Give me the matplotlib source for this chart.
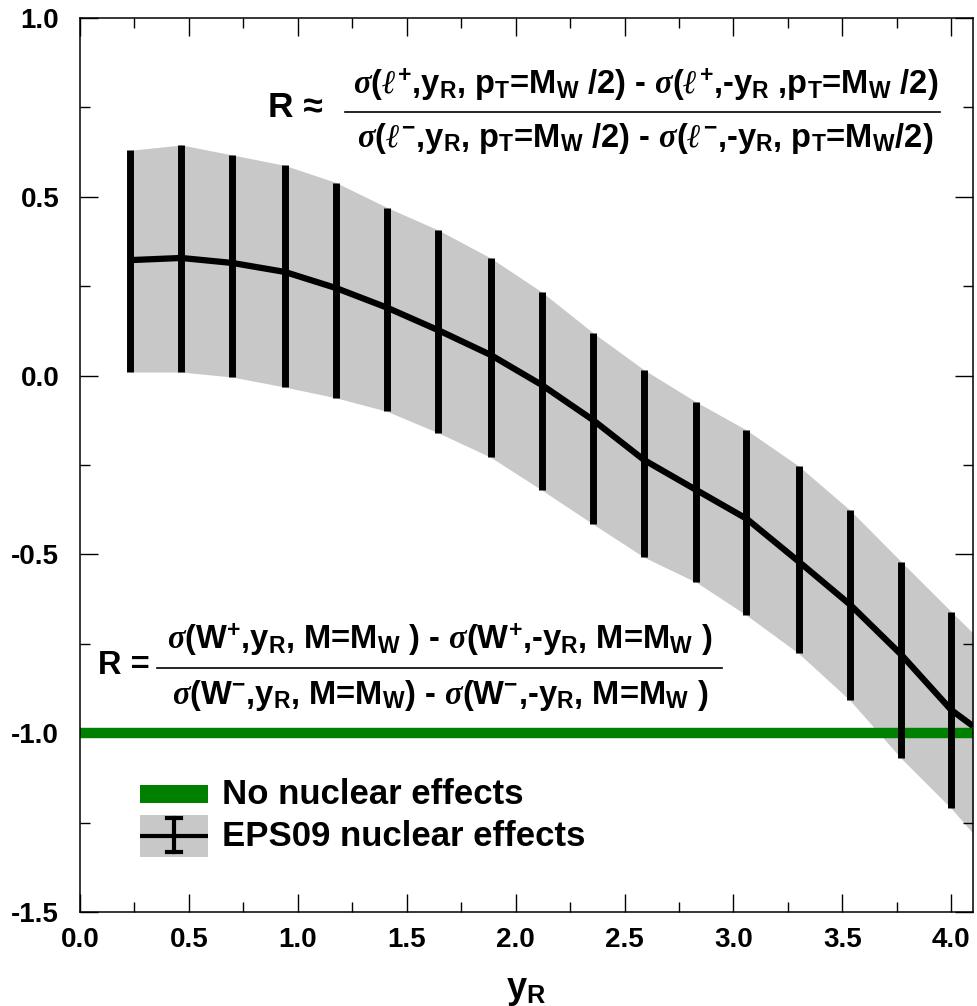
import numpy as np
import matplotlib
matplotlib.use("Agg")
import matplotlib.pyplot as plt
from matplotlib.patches import Rectangle
from matplotlib.ticker import MultipleLocator, FormatStrFormatter

plt.rcParams['font.family'] = ['Liberation Sans', 'DejaVu Sans']
plt.rcParams['font.weight'] = 'bold'
plt.rcParams['mathtext.fontset'] = 'custom'
plt.rcParams['mathtext.rm'] = 'Liberation Sans:bold'
plt.rcParams['mathtext.bf'] = 'Liberation Sans:bold'
plt.rcParams['mathtext.it'] = 'Liberation Serif:italic'

# --- data ---
y_r = [0.23, 0.465, 0.70, 0.94, 1.175, 1.41, 1.645, 1.885, 2.12, 2.355,
       2.59, 2.83, 3.06, 3.30, 3.535, 3.77, 4.00]
r_central = [0.323, 0.329, 0.315, 0.29, 0.245, 0.19, 0.127, 0.058, -0.026, -0.124,
             -0.236, -0.32, -0.40, -0.52, -0.64, -0.78, -0.935]
r_upper = [0.63, 0.645, 0.617, 0.588, 0.54, 0.47, 0.407, 0.329, 0.234, 0.12,
           0.016, -0.074, -0.152, -0.253, -0.376, -0.52, -0.66]
r_lower = [0.01, 0.01, -0.004, -0.032, -0.062, -0.10, -0.16, -0.228, -0.32, -0.415,
           -0.508, -0.578, -0.67, -0.777, -0.908, -1.07, -1.21]
# curve / band continue to the right edge
y_r_end = 4.1
r_central_end = -0.98
r_upper_end = -0.72
r_lower_end = -1.28
r_no_nuclear = -1.0

band_gray = '#c8c8c8'

fig = plt.figure(figsize=(9.78, 10.06), dpi=100)
ax = fig.add_axes([0.0818, 0.0934, 0.9131, 0.8887])

cx = np.array(y_r + [y_r_end])
ax.fill_between(cx, r_lower + [r_lower_end], r_upper + [r_upper_end],
                color=band_gray, lw=0, zorder=1)
ax.axhline(r_no_nuclear, color='#008000', lw=7.5, zorder=2)
ax.plot(cx, r_central + [r_central_end], color='black', lw=4.5, zorder=3,
        solid_capstyle='butt', solid_joinstyle='round')
yc = np.array(r_central)
ax.errorbar(y_r, r_central, yerr=[yc - np.array(r_lower), np.array(r_upper) - yc],
            fmt='none', ecolor='black', elinewidth=5, capsize=0, zorder=4)

ax.set_xlim(0, 4.1)
ax.set_ylim(-1.5, 1.0)
ax.xaxis.set_major_locator(MultipleLocator(0.5))
ax.xaxis.set_minor_locator(MultipleLocator(0.25))
ax.yaxis.set_major_locator(MultipleLocator(0.5))
ax.yaxis.set_minor_locator(MultipleLocator(0.25))
ax.xaxis.set_major_formatter(FormatStrFormatter('%.1f'))
ax.yaxis.set_major_formatter(FormatStrFormatter('%.1f'))
ax.tick_params(which='both', direction='in', top=True, right=True, width=1.0,
               labelsize=20)
ax.tick_params(axis='x', which='major', pad=11)
ax.tick_params(axis='y', which='major', pad=15)
ax.tick_params(which='major', length=13)
ax.tick_params(which='minor', length=7)
for s in ax.spines.values():
    s.set_linewidth(1.1)
ax.set_xlabel(r'y$_\mathrm{R}$', fontsize=26, fontweight='bold', labelpad=14)

# --- formulas ---
fs = 23.5
ax.text(0.272, 0.900, 'R ≈', transform=ax.transAxes, ha='right', va='center',
        fontsize=fs + 2, fontweight='bold')
ax.text(0.633, 0.925,
        r'$\sigma(\ell^{+}$,y$_\mathrm{R}$, p$_\mathrm{T}$=M$_\mathrm{W}$ /2) - '
        r'$\sigma(\ell^{+}$,-y$_\mathrm{R}$ ,p$_\mathrm{T}$=M$_\mathrm{W}$ /2)',
        transform=ax.transAxes, ha='center', va='center', fontsize=fs, fontweight='bold')
ax.plot([0.297, 0.963], [0.895, 0.895], color='black', lw=1.2, transform=ax.transAxes)
ax.text(0.633, 0.865,
        r'$\sigma(\ell^{-}$,y$_\mathrm{R}$, p$_\mathrm{T}$=M$_\mathrm{W}$ /2) - '
        r'$\sigma(\ell^{-}$,-y$_\mathrm{R}$, p$_\mathrm{T}$=M$_\mathrm{W}$/2)',
        transform=ax.transAxes, ha='center', va='center', fontsize=fs, fontweight='bold')

ax.text(0.078, 0.276, 'R =', transform=ax.transAxes, ha='right', va='center',
        fontsize=fs, fontweight='bold')
ax.text(0.403, 0.304,
        r'$\sigma$(W$^{+}$,y$_\mathrm{R}$, M=M$_\mathrm{W}$ ) - '
        r'$\sigma$(W$^{+}$,-y$_\mathrm{R}$, M=M$_\mathrm{W}$ )',
        transform=ax.transAxes, ha='center', va='center', fontsize=fs, fontweight='bold')
ax.plot([0.086, 0.719], [0.273, 0.273], color='black', lw=1.2, transform=ax.transAxes)
ax.text(0.403, 0.242,
        r'$\sigma$(W$^{-}$,y$_\mathrm{R}$, M=M$_\mathrm{W}$) - '
        r'$\sigma$(W$^{-}$,-y$_\mathrm{R}$, M=M$_\mathrm{W}$ )',
        transform=ax.transAxes, ha='center', va='center', fontsize=fs, fontweight='bold')

# --- legend (drawn by hand) ---
ax.add_patch(Rectangle((0.067, 0.122), 0.076, 0.020, transform=ax.transAxes,
                       color='#008000', lw=0, zorder=5))
ax.text(0.159, 0.131, 'No nuclear effects', transform=ax.transAxes, va='center',
        fontsize=25, fontweight='bold')
ax.add_patch(Rectangle((0.067, 0.0615), 0.076, 0.047, transform=ax.transAxes,
                       color=band_gray, lw=0, zorder=5))
ax.plot([0.067, 0.143], [0.085, 0.085], color='black', lw=3, transform=ax.transAxes,
        zorder=6, solid_capstyle='butt')
ax.plot([0.105, 0.105], [0.067, 0.105], color='black', lw=3, transform=ax.transAxes,
        zorder=6)
for yy in (0.067, 0.105):
    ax.plot([0.097, 0.113], [yy, yy], color='black', lw=3, transform=ax.transAxes,
            zorder=6)
ax.text(0.159, 0.085, 'EPS09 nuclear effects', transform=ax.transAxes, va='center',
        fontsize=25, fontweight='bold')

fig.savefig('out.png', dpi=100)
